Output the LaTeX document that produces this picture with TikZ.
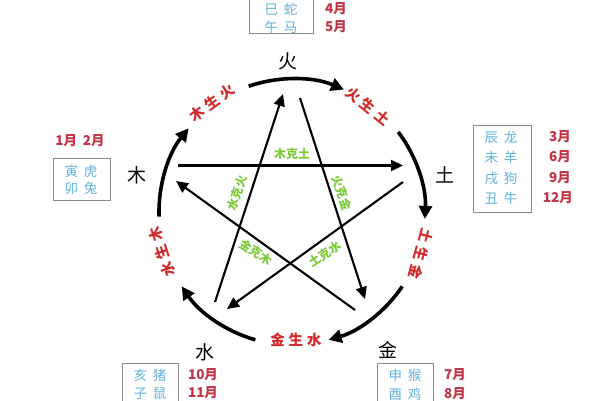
\documentclass[tikz,border=0pt]{standalone}
\usepackage{fontspec}
\newfontfamily\cjk{Noto Sans CJK SC}
\usetikzlibrary{arrows.meta,calc}
\definecolor{shengred}{HTML}{D32B2B}
\definecolor{kegreen}{HTML}{7CCB3A}
\definecolor{boxblue}{HTML}{62B3DE}
\definecolor{monthred}{HTML}{C23345}
\definecolor{boxgray}{HTML}{8A8A8A}
\tikzset{
  shengarc/.style={line width=3.6pt,-{Triangle[length=13pt,width=13pt]}},
  kearrow/.style={line width=2.1pt,-{Triangle[length=12pt,width=11pt]}},
  element/.style={font=\cjk\fontsize{19}{19}\selectfont,text=black,inner sep=0pt},
  shenglabel/.style={font=\cjk\bfseries\fontsize{14.5}{14.5}\selectfont,text=shengred,inner sep=0pt},
  kelabel/.style={font=\cjk\bfseries\fontsize{12}{12}\selectfont,text=kegreen,inner sep=0pt},
  zodiac/.style={font=\cjk\fontsize{13.5}{13.5}\selectfont,text=boxblue,inner sep=0pt},
  month/.style={font=\cjk\bfseries\fontsize{13.5}{13.5}\selectfont,text=monthred,inner sep=0pt},
  zbox/.style={draw=boxgray,line width=0.9pt}
}
\newcommand{\gapsp}{\hspace{4pt}}
\begin{document}
\begin{tikzpicture}[x=1pt,y=1pt]
\useasboundingbox[fill=white] (0,0) rectangle (600,400);
\coordinate (O) at (292,188);
% sheng arcs
\draw[shengarc] ($(O)+(109:133)$) arc[start angle=109,end angle=67,radius=133];
\draw[shengarc] ($(O)+(37:133)$) arc[start angle=37,end angle=-3,radius=133];
\draw[shengarc] ($(O)+(-34:133)$) arc[start angle=-34,end angle=-74,radius=133];
\draw[shengarc] ($(O)+(-106:133)$) arc[start angle=-106,end angle=-146,radius=133];
\draw[shengarc] ($(O)+(182:133)$) arc[start angle=182,end angle=141,radius=133];
% sheng labels
\node[shenglabel,rotate=36] (mshh) at (212,297) {木\gapsp 生\gapsp 火};
\node[shenglabel,rotate=-39] (hsht) at (368,294) {火\gapsp 生\gapsp 土};
\node[shenglabel,rotate=-105] (tshj) at (421,146) {土\gapsp 生\gapsp 金};
\node[shenglabel] (jshs) at (296,60) {金\gapsp 生\gapsp 水};
\node[shenglabel,rotate=108] (sshm) at (162,148) {水\gapsp 生\gapsp 木};
% element labels
\node[element] (huo) at (288,339) {火};
\node[element] (tu) at (445,225) {土};
\node[element] (jin) at (388,50) {金};
\node[element] (shui) at (205,48) {水};
\node[element] (mu) at (137,225) {木};
% ke lines
\coordinate (kL) at (178,234.5);
\coordinate (kR) at (403,234.5);
\coordinate (jA) at (355,90);
\coordinate (jB) at (176,219);
\coordinate (tA) at (403,218);
\coordinate (tB) at (227,91);
\coordinate (sA) at (215,98);
\coordinate (sB) at (283,306);
\coordinate (hA) at (300,302);
\coordinate (hB) at (365,101);
\draw[kearrow] (kL) -- (kR);
\draw[kearrow] (jA) -- (jB);
\draw[kearrow] (tA) -- (tB);
\draw[kearrow] (sA) -- (sB);
\draw[kearrow] (hA) -- (hB);
% ke labels
\node[kelabel] (mkt) at (292,246) {木克土};
\node[kelabel,rotate=71] (skh) at (237,207) {水克火};
\node[kelabel,rotate=-70] (hkj) at (342,207) {火克金};
\node[kelabel,rotate=-33] (jkm) at (256,148) {金克木};
\node[kelabel,rotate=34] (tks) at (325,146) {土克水};
% top box
\draw[zbox] (249,367) rectangle (313,403);
\node[zodiac] (z1) at (281,391) {巳\hspace{6pt}蛇};
\node[zodiac] (z2) at (281,373) {午\hspace{6pt}马};
\node[month] (m4) at (336,391) {4月};
\node[month] (m5) at (336,373) {5月};
% left box
\draw[zbox] (53,242) rectangle (110,200);
\node[zodiac] (z3) at (81,229) {寅\hspace{6pt}虎};
\node[zodiac] (z4) at (81,212) {卯\hspace{6pt}兔};
\node[month] (m12) at (80,259) {1月\hspace{6pt}2月};
% right box
\draw[zbox] (473,275) rectangle (531,188);
\node[zodiac] (z5) at (501,263) {辰\hspace{6pt}龙};
\node[zodiac] (z6) at (501,243) {未\hspace{6pt}羊};
\node[zodiac] (z7) at (501,222) {戌\hspace{6pt}狗};
\node[zodiac] (z8) at (501,202) {丑\hspace{6pt}牛};
\node[month,anchor=east] (m3) at (571,263) {3月};
\node[month,anchor=east] (m6) at (571,243) {6月};
\node[month,anchor=east] (m9) at (571,222) {9月};
\node[month,anchor=east] (m12b) at (573,202) {12月};
% bottom-left box
\draw[zbox] (122,37) rectangle (178,-5);
\node[zodiac] (z9) at (150,25) {亥\hspace{6pt}猪};
\node[zodiac] (z10) at (150,7) {子\hspace{6pt}鼠};
\node[month] (m10) at (203,25) {10月};
\node[month] (m11) at (203,7) {11月};
% bottom-right box
\draw[zbox] (377,37) rectangle (433,-5);
\node[zodiac] (z11) at (405,25) {申\hspace{6pt}猴};
\node[zodiac] (z12) at (405,6) {酉\hspace{6pt}鸡};
\node[month] (m7) at (455,25) {7月};
\node[month] (m8) at (455,6) {8月};
\end{tikzpicture}
\end{document}
